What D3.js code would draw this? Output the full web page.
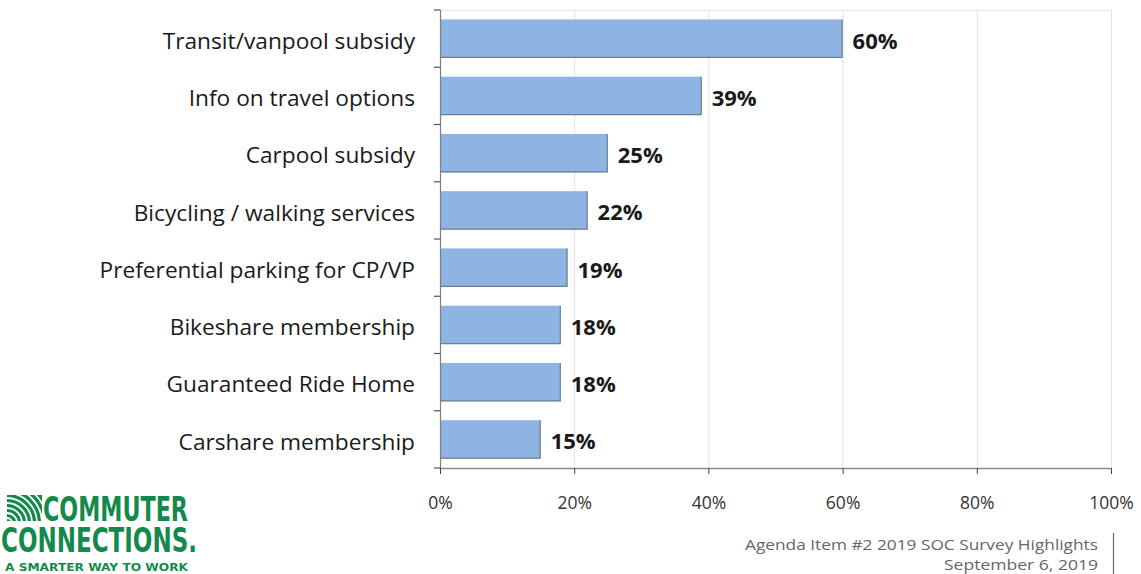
<!DOCTYPE html>
<html>
<head>
<meta charset="utf-8">
<script src="https://cdn.jsdelivr.net/npm/d3@7"></script>
<style>
  body { margin: 0; background: #fff; }
  svg { display: block; }
</style>
</head>
<body>
<div id="chart"></div>
<script>
// Survey data (percent of respondents)
const categories = [
  'Transit/vanpool subsidy',
  'Info on travel options',
  'Carpool subsidy',
  'Bicycling / walking services',
  'Preferential parking for CP/VP',
  'Bikeshare membership',
  'Guaranteed Ride Home',
  'Carshare membership'
];
const values = [60, 39, 25, 22, 19, 18, 18, 15];
const xTicks = [0, 20, 40, 60, 80, 100];

const W = 1141, H = 574;
const margin = {top: 10, left: 440};
const width = 1111 - margin.left;
const height = 468 - margin.top;
const font = '"Open Sans", sans-serif';

const svg = d3.select('#chart').append('svg')
  .attr('width', W)
  .attr('height', H);

const g = svg.append('g')
  .attr('transform', 'translate(' + margin.left + ',' + margin.top + ')');

const x = d3.scaleLinear().domain([0, 100]).range([0, width]);
const y = d3.scaleBand().domain(categories).range([0, height]).paddingInner(0.33).paddingOuter(0.165);

// Gridlines
g.selectAll('.grid')
  .data(xTicks.slice(1))
  .enter().append('line')
  .attr('x1', d => x(d) + 0.5).attr('x2', d => x(d) + 0.5)
  .attr('y1', 0).attr('y2', height)
  .attr('stroke', '#e2e2e2').attr('stroke-width', 1);

// Top border of plot area
g.append('line')
  .attr('x1', 0).attr('x2', width)
  .attr('y1', 0.5).attr('y2', 0.5)
  .attr('stroke', '#e6e6e6');

// Bars
g.selectAll('.bar')
  .data(categories)
  .enter().append('rect')
  .attr('x', 0)
  .attr('y', d => y(d))
  .attr('width', (d, i) => x(values[i]))
  .attr('height', y.bandwidth())
  .attr('fill', '#8db4e2');

// Bar bottom/right edges (darker shade)
g.selectAll('.edge')
  .data(categories)
  .enter().append('path')
  .attr('d', (d, i) => 'M0,' + (y(d) + y.bandwidth() - 0.5) + 'H' + (x(values[i]) - 0.5) + 'V' + y(d))
  .attr('fill', 'none')
  .attr('stroke', '#6e7f92')
  .attr('stroke-width', 1.2);

// Value labels
g.selectAll('.val')
  .data(categories)
  .enter().append('text')
  .attr('x', (d, i) => x(values[i]) + 10)
  .attr('y', d => y(d) + y.bandwidth() / 2 + 2)
  .attr('dy', '0.36em')
  .attr('font-family', font)
  .attr('font-weight', 'bold')
  .attr('font-size', 22)
  .attr('fill', '#1a1a1a')
  .text((d, i) => values[i] + '%');

// Y axis with ticks at band boundaries
const yAxisG = g.append('g');
yAxisG.append('line')
  .attr('x1', 0.5).attr('x2', 0.5).attr('y1', 0).attr('y2', height)
  .attr('stroke', '#7f7f7f').attr('stroke-width', 1.2);
const bounds = d3.range(categories.length + 1).map(i => i * height / categories.length);
yAxisG.selectAll('.yt')
  .data(bounds)
  .enter().append('line')
  .attr('x1', -6).attr('x2', 0.5)
  .attr('y1', d => d).attr('y2', d => d)
  .attr('stroke', '#555').attr('stroke-width', 1.2);
yAxisG.selectAll('.cat')
  .data(categories)
  .enter().append('text')
  .attr('x', -25)
  .attr('y', d => y(d) + y.bandwidth() / 2 + 2)
  .attr('dy', '0.36em')
  .attr('text-anchor', 'end')
  .attr('font-family', font)
  .attr('font-size', 22.7)
  .attr('fill', '#1a1a1a')
  .text(d => d);

// X axis
const xAxis = d3.axisBottom(x)
  .tickValues(xTicks)
  .tickFormat(d => d + '%')
  .tickSize(6)
  .tickSizeOuter(0)
  .tickPadding(23);
const gX = g.append('g')
  .attr('transform', 'translate(0,' + height + ')')
  .call(xAxis);
gX.select('.domain').attr('stroke', '#8c8c8c').attr('stroke-width', 1.5);
gX.selectAll('.tick line').attr('stroke', '#444');
gX.selectAll('.tick text')
  .attr('font-family', font)
  .attr('font-size', 17.5)
  .attr('fill', '#333');

// Footer: logo
const logo = svg.append('g');
const green = '#138a4b';
const icon = logo.append('g').attr('transform', 'translate(7,495)');
icon.append('clipPath').attr('id', 'iconClip')
  .append('rect').attr('x', 0).attr('y', 0).attr('width', 35).attr('height', 26);
const arcs = icon.append('g').attr('clip-path', 'url(#iconClip)');
arcs.append('rect').attr('x', 0).attr('y', 0).attr('width', 35).attr('height', 26).attr('fill', green);
[5, 10, 15, 20, 25, 30, 35, 40].forEach(r => {
  arcs.append('circle')
    .attr('cx', 0).attr('cy', 28).attr('r', r)
    .attr('fill', 'none').attr('stroke', '#fff').attr('stroke-width', 1.8);
});
logo.append('text')
  .attr('x', 43).attr('y', 521)
  .attr('font-family', '"DejaVu Sans Condensed", "DejaVu Sans", sans-serif')
  .attr('font-weight', 'bold')
  .attr('font-size', 33)
  .attr('fill', green)
  .attr('textLength', 145)
  .attr('lengthAdjust', 'spacingAndGlyphs')
  .text('COMMUTER');
logo.append('text')
  .attr('x', 1).attr('y', 552)
  .attr('font-family', '"DejaVu Sans Condensed", "DejaVu Sans", sans-serif')
  .attr('font-weight', 'bold')
  .attr('font-size', 33)
  .attr('fill', green)
  .attr('textLength', 196)
  .attr('lengthAdjust', 'spacingAndGlyphs')
  .text('CONNECTIONS.');
logo.append('text')
  .attr('x', 5).attr('y', 571)
  .attr('font-family', '"DejaVu Sans", sans-serif')
  .attr('font-weight', 'bold')
  .attr('font-size', 11)
  .attr('fill', green)
  .attr('textLength', 183)
  .attr('lengthAdjust', 'spacingAndGlyphs')
  .text('A SMARTER WAY TO WORK');

// Footer: agenda text
const foot = svg.append('g');
foot.append('text')
  .attr('x', 1098).attr('y', 550)
  .attr('text-anchor', 'end')
  .attr('font-family', '"Open Sans", sans-serif')
  .attr('font-size', 15)
  .attr('fill', '#666')
  .attr('textLength', 353)
  .attr('lengthAdjust', 'spacingAndGlyphs')
  .text('Agenda Item #2 2019 SOC Survey Highlights');
foot.append('text')
  .attr('x', 1098).attr('y', 570)
  .attr('text-anchor', 'end')
  .attr('font-family', '"Open Sans", sans-serif')
  .attr('font-size', 15)
  .attr('fill', '#666')
  .attr('textLength', 154)
  .attr('lengthAdjust', 'spacingAndGlyphs')
  .text('September 6, 2019');
foot.append('line')
  .attr('x1', 1113.5).attr('x2', 1113.5)
  .attr('y1', 533).attr('y2', 574)
  .attr('stroke', '#666').attr('stroke-width', 1.2);
</script>
</body>
</html>
